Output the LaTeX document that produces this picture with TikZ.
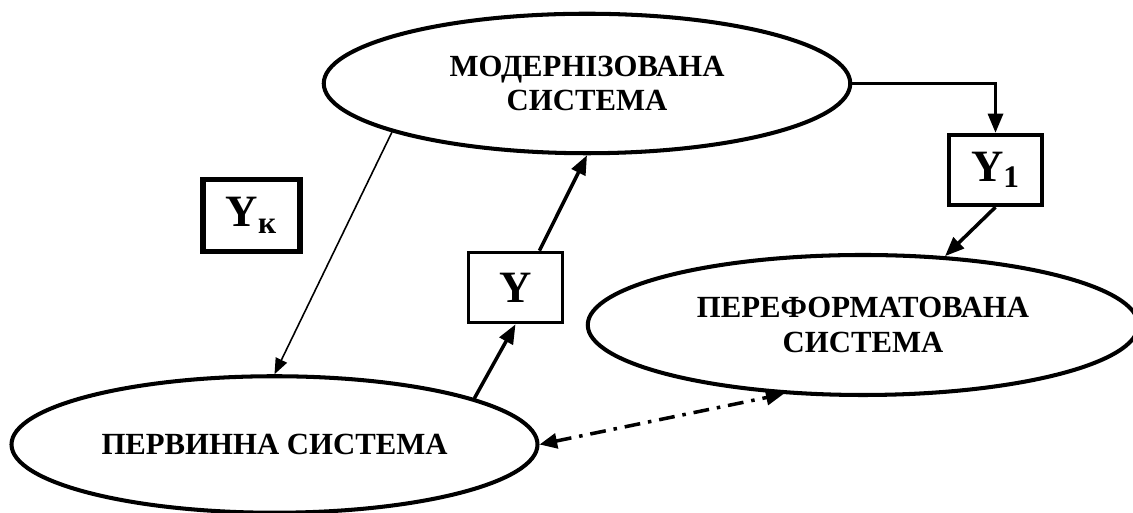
\documentclass[tikz,border=0pt]{standalone}
\usepackage{fontspec}
\setmainfont{Liberation Serif}
\usetikzlibrary{shapes.geometric,arrows.meta}
\begin{document}
\begin{tikzpicture}[sys/.style={ellipse,draw=black,line width=2.3pt,inner sep=0pt,align=center,font=\bfseries\fontsize{17.5}{19.8}\selectfont},
var/.style={rectangle,draw=black,line width=2.1pt,inner sep=0pt,minimum width=1.88cm,minimum height=1.40cm,font=\bfseries\fontsize{25.5}{28}\selectfont},
arr/.style={line width=2pt,-{Triangle[length=11pt,width=8.5pt]}},
arrthin/.style={line width=0.9pt,-{Triangle[length=9pt,width=7pt]}}]
\useasboundingbox (0,0) rectangle (22.66,10.26);
% Systems
\path (11.74,8.59) node(e1)[sys,minimum width=10.53cm,minimum height=2.79cm] {МОДЕРНІЗОВАНА\\СИСТЕМА};
\path (5.49,1.37) node(e2)[sys,minimum width=10.52cm,minimum height=2.73cm] {ПЕРВИННА СИСТЕМА};
\path (17.26,3.76) node(e3)[sys,minimum width=11.01cm,minimum height=2.80cm] {ПЕРЕФОРМАТОВАНА\\СИСТЕМА};
% Variables
\path (5.03,5.95) node(b1)[var,line width=3.2pt,minimum width=1.94cm,minimum height=1.44cm] {Y\textsubscript{к}};
\path (10.31,4.51) node(b2)[var] {Y};
\path (19.91,6.86) node(b3)[var,line width=2.4pt,minimum width=1.86cm] {Y\textsubscript{1}};
% Links
\draw[arrthin] (e1.194) -- (e2.north);
\draw[arr] (e2.13) -- (b2.south);
\draw[arr] (b2.57) -- (e1.south);
\draw[arr] (e1.east) -| (b3.north);
\draw[arr] (b3.south) -- (e3.40);
\draw[line width=2pt,dash pattern=on 9pt off 4.5pt on 2pt off 4.5pt,{Triangle[length=10pt,width=8.5pt]}-{Triangle[length=10pt,width=8.5pt]}] (e2.east) -- (e3.221);
\end{tikzpicture}
\end{document}
